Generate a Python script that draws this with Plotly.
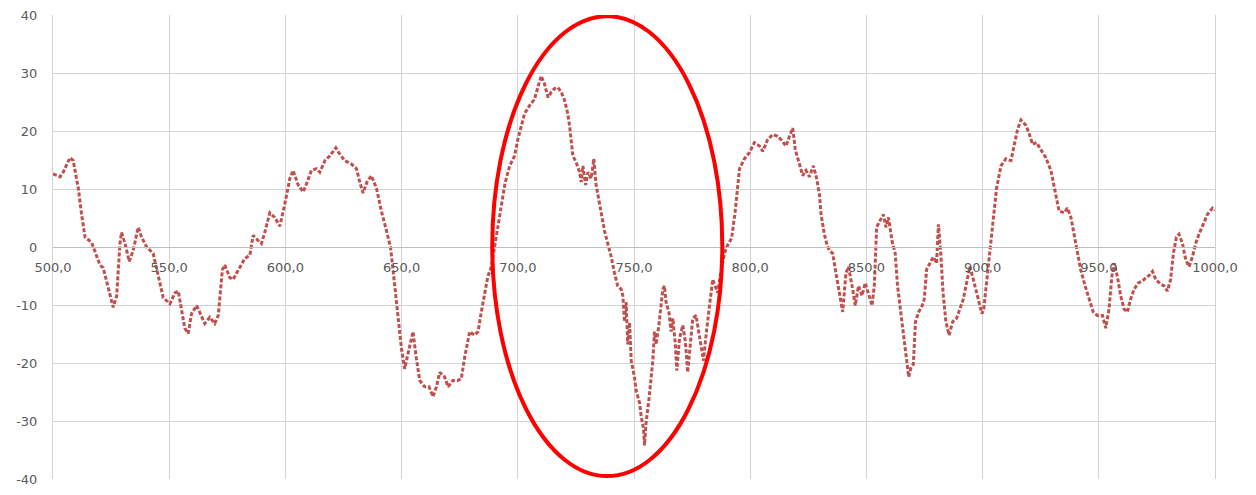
import plotly.graph_objects as go

# ---- data ----
x_vals = [
    500, 503, 504.4, 507.3, 508.7, 510.9, 512.3, 513.8, 516.6, 518, 520.2, 521.6, 523.8, 525.9, 527.4,
    528.8, 529.5, 531, 532.8, 534.5, 536, 536.7, 538.1, 540.3, 543.1, 545.3, 547.4, 550.3, 552.5, 553.9,
    555.3, 556.7, 558.2, 559.6, 561.8, 563.9, 565.3, 567.5, 569.6, 571.1, 572.9, 573.9, 576.1, 577.5,
    580.4, 582.5, 584.7, 586.1, 588.3, 589.7, 591.1, 593.3, 595.4, 597.6, 599.7, 601.9, 603.3, 605.5,
    607.6, 609.1, 611.2, 613.4, 614.8, 617, 619.1, 621.7, 623.4, 625.5, 628.4, 630.6, 632, 633.4, 635.1,
    637, 639.2, 641.3, 643.5, 645.2, 646.3, 647.7, 648.9, 649.9, 651.3, 652.3, 653.8, 654.9, 656.3,
    657.8, 659.9, 661.8, 663.5, 665, 666.4, 668.5, 670, 672.1, 674.2, 675.7, 677.1, 679.3, 681.4, 682.9,
    684.3, 685.7, 687.1, 688.6, 690, 691.5, 692.9, 694.5, 696.5, 698.6, 700, 701.5, 702.9, 705.1, 707.2,
    708.6, 710.1, 711.5, 713, 714.4, 715.8, 717.2, 718.7, 720.1, 721.5, 722.3, 723, 723.7, 725.1, 726.6,
    727.3, 728, 729.2, 730.2, 731.6, 732.7, 733.7, 734.9, 735.9, 737.3, 738.7, 740.2, 741.6, 743, 744.5,
    745.2, 745.9, 746.6, 747.3, 748.1, 748.8, 750.2, 750.9, 752.4, 753.1, 754.1, 754.5, 755.2, 756.4,
    757.4, 758.1, 758.8, 759.5, 760.7, 761.7, 762.4, 763.1, 763.8, 765, 766, 766.7, 767.8, 768.4, 769.6,
    771, 772.1, 773.1, 774.1, 775.3, 776.7, 777.9, 778.9, 779.9, 780.7, 781.7, 782.8, 783.9, 785, 786,
    787.5, 789, 790.5, 792, 793.5, 795.4, 797.5, 799.7, 801.8, 804, 805.4, 807.5, 809.7, 811.8, 814,
    815.4, 816.9, 818.3, 819.4, 821.2, 822.6, 824, 825.5, 827.2, 828.6, 829.8, 830.5, 831.9, 832.9, 834,
    835.5, 836.9, 838.4, 839.8, 841.2, 842.3, 844.1, 845.2, 846.6, 848.1, 849.5, 850.9, 852.4, 853.4,
    854.4, 855.8, 857.3, 858.4, 859.5, 861, 862.4, 863.4, 864.8, 865.9, 867, 868.2, 869.2, 870.2, 871.1,
    872.5, 874, 874.9, 875.9, 877.3, 878.8, 880.2, 881, 882, 883, 884.2, 885.6, 887.1, 888.8, 890.2,
    891.7, 893.1, 894.5, 895.7, 897.1, 898.2, 899.7, 900.5, 901.7, 903.1, 904.6, 906, 907.9, 910, 912.2,
    913.6, 915, 916.5, 918.6, 920, 921.5, 923.2, 925.1, 927.2, 929.4, 931.2, 932.9, 935.1, 936.5, 938,
    939.4, 940.8, 942.2, 944.1, 945.8, 947.6, 949.4, 951.6, 953, 954.4, 955.6, 956.6, 958, 959.4, 960.9,
    962.3, 963.7, 965.2, 967, 968.7, 970.2, 971.9, 973.1, 974.5, 976.6, 978.1, 979.5, 980.9, 982.1,
    983.4, 984.5, 986, 987.4, 988.8, 990.3, 991.7, 993.1, 994.8, 996.7, 998.9, 1000,
]
y_vals = [
    12.6, 12.1, 12.9, 15.4, 14.9, 10.1, 5.6, 1.7, 0.8, -0.8, -3.1, -3.6, -7.3, -10.4, -8.4,
    0.6, 2.5, 0.6, -2.5, -0.6, 2.2, 3.4, 1.7, 0, -1.1, -5, -8.7, -9.8, -7.9, -7.6,
    -10.7, -14, -14.9, -11.5, -10.1, -11.8, -13.2, -12.1, -13.2, -11.8, -3.9, -3.1, -5.3, -5.6,
    -3.4, -2, -1.4, 2, 1.1, 0.6, 2.5, 5.9, 5.1, 3.6, 7.3, 11.8, 13.2, 10.7,
    9.5, 10.9, 13.2, 13.5, 12.9, 14.9, 15.7, 17.1, 16, 14.9, 14.3, 13.5, 11.2, 9.3, 11.2,
    12.3, 10.1, 6.2, 2.8, 0, -3.9, -9, -13.5, -17.4, -21, -19.1, -16.3, -14.6, -19.1,
    -23, -24.1, -24.1, -25.8, -24.1, -21.6, -22.4, -24.1, -23, -23, -22.7, -19.1, -14.6, -15.2, -14.6,
    -11.2, -7.9, -5.1, -3.4, 0, 3.9, 7.3, 11, 14, 15.7, 18.5, 20.8, 23, 24.4, 25.5,
    27.5, 29.5, 28.1, 25.8, 26.7, 27.3, 27.5, 26.7, 25.3, 23, 20.8, 18, 15.7, 14.6, 12.9,
    11.2, 14, 10.7, 12.9, 11.8, 15.2, 10.7, 7.9, 5.6, 2.8, 0.6, -1.7, -4.5, -6.7, -7.3,
    -8.4, -12.9, -9.5, -16.8, -13, -19.6, -22.4, -24.7, -26.9, -29.2, -31.4, -34.2, -30.3, -26.4,
    -22.4, -19.6, -14.6, -16.8, -13.5, -10.1, -7.3, -6.7, -9.5, -11.2, -14.6, -12.3, -16.8, -21.3, -15.7,
    -13.5, -16.3, -21.6, -16.8, -12.3, -11.8, -14.6, -16.8, -19.6, -16.3, -12.3, -9, -5.6, -6.7, -7.9,
    -4, -1, 0.5, 1.5, 6, 13.5, 15.2, 16.3, 18, 17.4, 16.5, 18.5, 19.4, 19.1, 18.2,
    17.4, 19.1, 20.5, 16.8, 14, 12.3, 13.2, 12.1, 14, 11.8, 9, 5.6, 2.2, 0.6, -0.6,
    -1.1, -4.5, -7.9, -11.2, -4.5, -3.4, -7.3, -10.1, -6.7, -8.4, -6.2, -7.9, -10.1, -6.7,
    3.4, 4.5, 5.6, 3.4, 5.1, 1.1, -1.1, -6.7, -11.2, -15.7, -19.1, -22.4, -20.8, -20.2, -12.9,
    -11.2, -10.1, -9, -3.9, -2.8, -1.7, -2.8, 3.9, -1.1, -7.9, -12.9, -15.2, -12.9, -12.3, -10.7,
    -9, -6.2, -3.4, -5.1, -7.3, -9.5, -11.5, -10.7, -6.2, -0.6, 5.6, 10.1, 14, 15.2, 14.9,
    17.4, 20.2, 21.9, 21, 19.6, 17.7, 18, 16.8, 15.4, 13.2, 9.5, 6.2, 5.9, 6.7, 5.1,
    2.2, -0.6, -3.9, -6.7, -9, -11.2, -11.8, -11.8, -14, -10.7, -5.1, -2.8, -5.1, -8.4, -10.7,
    -11.2, -9, -7.3, -6.2, -5.9, -5.3, -4.8, -4.2, -5.6, -6.4, -6.7, -7.6, -5.6, -1.1,
    1.7, 2.2, 0.6, -2.2, -3.4, -1.7, 0.6, 2.2, 3.9, 5.6, 6.7, 6.3,
]
x_ticks = [500, 550, 600, 650, 700, 750, 800, 850, 900, 950, 1000]
x_tick_labels = ["500,0", "550,0", "600,0", "650,0", "700,0", "750,0",
                 "800,0", "850,0", "900,0", "950,0", "1000,0"]
y_ticks = [-40, -30, -20, -10, 0, 10, 20, 30, 40]
y_tick_labels = ["-40", "-30", "-20", "-10", "0", "10", "20", "30", "40"]

# highlight ellipse (data coordinates)
ell_x0, ell_x1 = 689, 788
ell_y0, ell_y1 = -39.5, 39.8

grid_col = "#D3D3D3"
font_col = "#595959"

fig = go.Figure()
fig.add_trace(go.Scatter(
    x=x_vals, y=y_vals, mode="lines",
    line=dict(color="#C0504D", width=3, dash="4px,2px"),
    showlegend=False, hoverinfo="skip",
))

fig.add_shape(type="circle", xref="x", yref="y",
              x0=ell_x0, x1=ell_x1, y0=ell_y0, y1=ell_y1,
              line=dict(color="#FF0000", width=4))

fig.update_layout(
    width=1256, height=495,
    margin=dict(l=53, r=41, t=12, b=8),
    paper_bgcolor="white", plot_bgcolor="white",
    font=dict(family="DejaVu Sans", size=13, color=font_col),
    xaxis=dict(
        range=[500, 1000], tickvals=x_ticks, ticktext=x_tick_labels,
        showgrid=True, gridcolor=grid_col, gridwidth=1,
        anchor="free", position=0.5,
        showline=True, linecolor="#BFBFBF", linewidth=1,
        zeroline=False, ticks="", ticklabelstandoff=8,
        tickfont=dict(family="DejaVu Sans", size=13, color=font_col),
    ),
    yaxis=dict(
        range=[-40, 40], tickvals=y_ticks, ticktext=y_tick_labels,
        showgrid=True, gridcolor=grid_col, gridwidth=1,
        zeroline=False, showline=True, linecolor=grid_col, linewidth=1,
        mirror=True, ticks="", ticklabelstandoff=12,
        tickfont=dict(family="DejaVu Sans", size=13, color=font_col),
    ),
)

fig.write_html("out.html")
